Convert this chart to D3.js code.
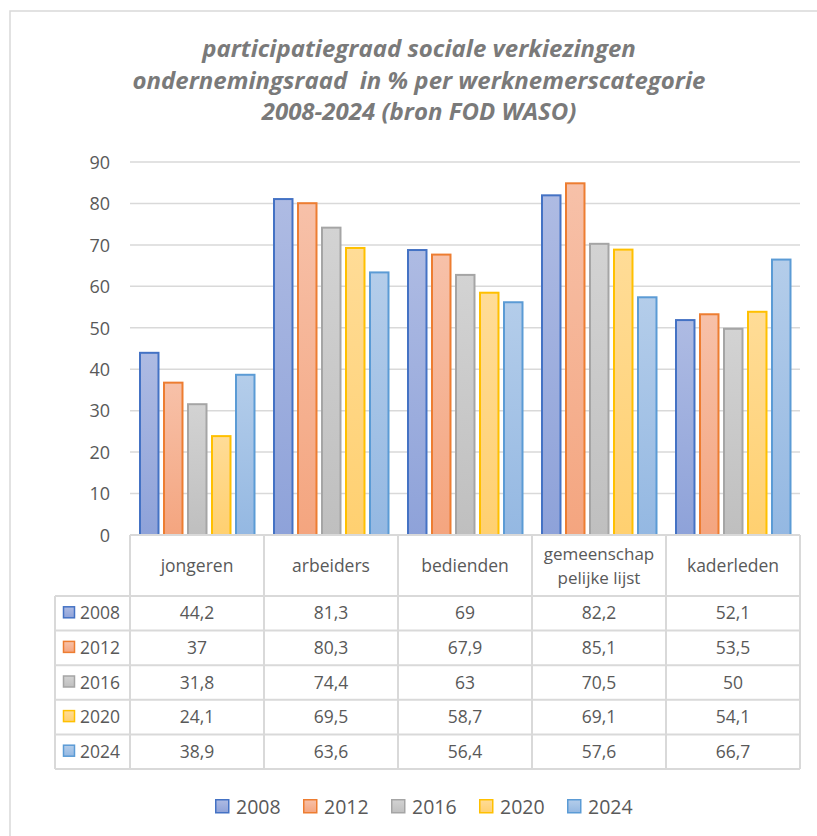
<!DOCTYPE html>
<html>
<head>
<meta charset="utf-8">
<script src="https://cdn.jsdelivr.net/npm/d3@7"></script>
<style>
  html, body { margin: 0; padding: 0; background: #fff; }
  svg text { font-family: "Open Sans", Lato, sans-serif; }
</style>
</head>
<body>
<div id="chart"></div>
<script>
// data
const categories = ['jongeren', 'arbeiders', 'bedienden', 'gemeenschap pelijke lijst', 'kaderleden'];
const categoryLines = [['jongeren'], ['arbeiders'], ['bedienden'], ['gemeenschap', 'pelijke lijst'], ['kaderleden']];
const years = ['2008', '2012', '2016', '2020', '2024'];
const v2008 = [44.2, 81.3, 69, 82.2, 52.1];
const v2012 = [37, 80.3, 67.9, 85.1, 53.5];
const v2016 = [31.8, 74.4, 63, 70.5, 50];
const v2020 = [24.1, 69.5, 58.7, 69.1, 54.1];
const v2024 = [38.9, 63.6, 56.4, 57.6, 66.7];
const yTicks = [0, 10, 20, 30, 40, 50, 60, 70, 80, 90];
const titleLines = [
  'participatiegraad sociale verkiezingen',
  'ondernemingsraad  in % per werknemerscategorie',
  '2008-2024 (bron FOD WASO)'
];

const seriesValues = [v2008, v2012, v2016, v2020, v2024];
const series = years.map((y, i) => ({ year: y, values: seriesValues[i] }));

const strokes = ['#4472c4', '#ed7d31', '#a5a5a5', '#ffc000', '#5b9bd5'];
const fillTop = ['#aebbe3', '#f7c1a9', '#d3d3d3', '#ffdc97', '#b4cdea'];
const fillBottom = ['#8ea2d9', '#f4a57f', '#bfbfbf', '#ffd070', '#94b8e2'];

const W = 817, H = 836;
const plot = { left: 130, right: 800, top: 162, bottom: 535 };
const tableLeft = 55;
const headerBottom = 596;
const rowH = 34.6;
const textColor = '#595959';
const gridColor = '#d9d9d9';

const svg = d3.select('#chart').append('svg')
  .attr('width', W)
  .attr('height', H);

// chart border (right/bottom edges fall outside the picture)
svg.append('rect')
  .attr('x', 10).attr('y', 11)
  .attr('width', 830).attr('height', 850)
  .attr('fill', '#fff')
  .attr('stroke', gridColor)
  .attr('stroke-width', 1.5);

// gradients
const defs = svg.append('defs');
years.forEach((y, i) => {
  const g = defs.append('linearGradient')
    .attr('id', 'grad' + y)
    .attr('x1', 0).attr('y1', 0).attr('x2', 0).attr('y2', 1);
  g.append('stop').attr('offset', '0%').attr('stop-color', fillTop[i]);
  g.append('stop').attr('offset', '100%').attr('stop-color', fillBottom[i]);
});

// title - size it so the long middle line spans like the original
const title = svg.append('g').selectAll('text')
  .data(titleLines)
  .enter()
  .append('text')
  .attr('x', 419)
  .attr('y', (d, i) => 57 + i * 31.5)
  .attr('text-anchor', 'middle')
  .style('white-space', 'pre')
  .style('font-size', '21px')
  .style('font-weight', 'bold')
  .style('font-style', 'italic')
  .style('fill', '#7a7a7a')
  .text(d => d);
const midLen = title.nodes()[1].getComputedTextLength();
const titleSize = Math.min(24, 21 * 578 / midLen);
title.style('font-size', titleSize + 'px');

// scales
const x0 = d3.scaleBand()
  .domain(categories)
  .range([plot.left, plot.right]);

const x1 = d3.scaleBand()
  .domain(years)
  .range([9, 125.5])
  .paddingInner(0.146);

const y = d3.scaleLinear()
  .domain([0, 90])
  .range([plot.bottom, plot.top]);

// gridlines
svg.append('g').selectAll('line')
  .data(yTicks.slice(1))
  .enter()
  .append('line')
  .attr('x1', plot.left).attr('x2', plot.right)
  .attr('y1', d => y(d)).attr('y2', d => y(d))
  .attr('stroke', gridColor)
  .attr('stroke-width', 1.5);

// y axis labels
const yAxis = d3.axisLeft(y).tickValues(yTicks).tickSize(0).tickPadding(0);
const yg = svg.append('g')
  .attr('transform', `translate(110,0)`)
  .call(yAxis);
yg.select('.domain').remove();
yg.selectAll('text')
  .style('font-size', '18px')
  .style('fill', textColor)
  .attr('dy', '0.35em');

// bars
const groups = svg.append('g').selectAll('g')
  .data(categories)
  .enter()
  .append('g')
  .attr('transform', d => `translate(${x0(d)},0)`);

groups.selectAll('rect')
  .data((c, ci) => series.map(s => ({ year: s.year, value: s.values[ci] })))
  .enter()
  .append('rect')
  .attr('x', d => x1(d.year) + 1)
  .attr('y', d => y(d.value) + 1)
  .attr('width', x1.bandwidth() - 2)
  .attr('height', d => y(0) - y(d.value) - 1)
  .attr('fill', d => `url(#grad${d.year})`)
  .attr('stroke', d => strokes[years.indexOf(d.year)])
  .attr('stroke-width', 2);

// data table
const table = svg.append('g');
const colEdges = categories.map(c => x0(c)).concat([plot.right]);

// column verticals
table.selectAll('.vhead')
  .data(colEdges)
  .enter()
  .append('line')
  .attr('x1', d => d).attr('x2', d => d)
  .attr('y1', plot.bottom).attr('y2', headerBottom + rowH * 5)
  .attr('stroke', gridColor).attr('stroke-width', 2);

// left edge of the series label column
table.append('line')
  .attr('x1', tableLeft).attr('x2', tableLeft)
  .attr('y1', headerBottom).attr('y2', headerBottom + rowH * 5)
  .attr('stroke', gridColor).attr('stroke-width', 2);

// horizontal lines
table.append('line')
  .attr('x1', plot.left).attr('x2', plot.right)
  .attr('y1', plot.bottom).attr('y2', plot.bottom)
  .attr('stroke', gridColor).attr('stroke-width', 2);
table.selectAll('.hrow')
  .data(d3.range(6))
  .enter()
  .append('line')
  .attr('x1', tableLeft).attr('x2', plot.right)
  .attr('y1', i => headerBottom + i * rowH)
  .attr('y2', i => headerBottom + i * rowH)
  .attr('stroke', gridColor).attr('stroke-width', 2);

// category labels
const headCenter = (plot.bottom + headerBottom) / 2;
categories.forEach((c, ci) => {
  const lines = categoryLines[ci];
  table.append('g').selectAll('text')
    .data(lines)
    .enter()
    .append('text')
    .attr('x', x0(c) + x0.bandwidth() / 2)
    .attr('y', (d, i) => headCenter + 6 + (i - (lines.length - 1) / 2) * 24)
    .attr('text-anchor', 'middle')
    .style('font-size', lines.length > 1 ? '17px' : '17.5px')
    .style('fill', textColor)
    .text(d => d);
});

// rows: key + year + values
series.forEach((s, si) => {
  const cy = headerBottom + si * rowH + rowH / 2;
  table.append('rect')
    .attr('x', 63.5).attr('y', cy - 6.5)
    .attr('width', 11).attr('height', 11)
    .attr('fill', `url(#grad${s.year})`)
    .attr('stroke', strokes[si]).attr('stroke-width', 1.5);
  table.append('text')
    .attr('x', 80).attr('y', cy + 6)
    .style('font-size', '17.5px')
    .style('fill', textColor)
    .text(s.year);
  table.append('g').selectAll('text')
    .data(s.values)
    .enter()
    .append('text')
    .attr('x', (d, ci) => x0(categories[ci]) + x0.bandwidth() / 2)
    .attr('y', cy + 6)
    .attr('text-anchor', 'middle')
    .style('font-size', '17.5px')
    .style('fill', textColor)
    .text(d => String(d).replace('.', ','));
});

// legend
const legend = svg.append('g').attr('transform', 'translate(215,799)');
const items = legend.selectAll('g')
  .data(years)
  .enter()
  .append('g')
  .attr('transform', (d, i) => `translate(${i * 88},0)`);
items.append('rect')
  .attr('x', 0.75).attr('y', 0.75)
  .attr('width', 13).attr('height', 13)
  .attr('fill', d => `url(#grad${d})`)
  .attr('stroke', (d, i) => strokes[i])
  .attr('stroke-width', 1.5);
items.append('text')
  .attr('x', 21).attr('y', 14.5)
  .style('font-size', '19.5px')
  .style('fill', textColor)
  .text(d => d);
</script>
</body>
</html>
